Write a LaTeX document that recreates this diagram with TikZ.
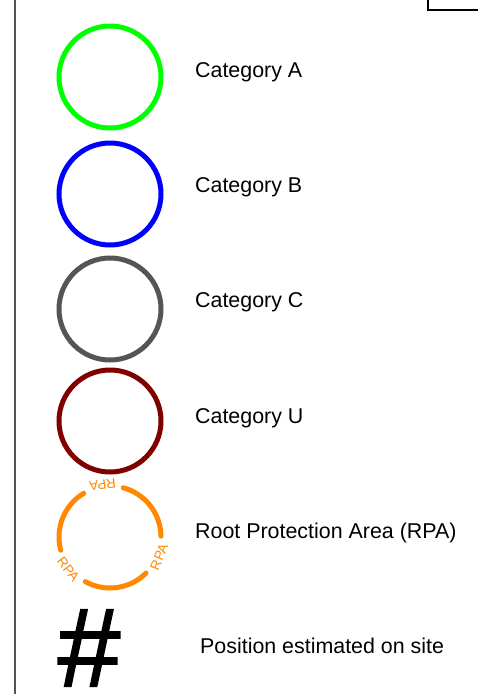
\documentclass[tikz,border=0pt]{standalone}
\usepackage{fontspec}
\setmainfont{Liberation Sans}
\newfontfamily\hashfont[FakeBold=1.6]{Liberation Sans}
\usetikzlibrary{positioning,calc}
\definecolor{catA}{RGB}{0,255,0}
\definecolor{catB}{RGB}{0,0,255}
\definecolor{catC}{RGB}{85,85,85}
\definecolor{catU}{RGB}{128,0,0}
\definecolor{rpa}{RGB}{255,136,0}
\begin{document}
\begin{tikzpicture}[x=1pt,y=-1pt,
    ring/.style={circle,line width=5pt,minimum size=102pt,inner sep=0pt},
    lbl/.style={anchor=west,inner sep=0pt,font=\fontsize{21.4}{24}\selectfont},
    rpatxt/.style={text=rpa,font=\fontsize{13.5}{14}\selectfont,inner sep=0pt}]
    \useasboundingbox (0,0) rectangle (477,694);
    \draw[catC,line width=2pt] (15,0) -- (15,694);
    \draw[line width=1.5pt] (428,-5) rectangle (482,10);
    \node[ring,draw=catA] (ringA) at (110,77) {};
    \node[ring,draw=catB] (ringB) at (110,194) {};
    \node[ring,draw=catC] (ringC) at (110,309) {};
    \node[ring,draw=catU] (ringU) at (110,421) {};
    \coordinate (rpac) at (110,537);
    \foreach \a in {98,218,338} {
      \draw[rpa,line width=5pt,line cap=round]
        ($(rpac)+({cos(\a+23)*51},{-sin(\a+23)*51})$)
        arc[start angle=-(\a+23),end angle=-(\a+97),radius=51];
      \node[rpatxt,rotate=\a+90] at ($(rpac)+({cos(\a)*53},{-sin(\a)*53})$) {RPA};
    }
    \node[lbl] (labA) at (195,72) {Category A};
    \node[lbl] (labB) at (195,187) {Category B};
    \node[lbl] (labC) at (195,302) {Category C};
    \node[lbl] (labU) at (195,418) {Category U};
    \node[lbl] (labR) at (195,533) {Root Protection Area (RPA)};
    \node[inner sep=0pt,font=\hashfont\fontsize{112}{112}\selectfont] (hash) at (89,648) {\#};
    \node[lbl] (labP) at (200,646) {Position estimated on site};
\end{tikzpicture}
\end{document}
